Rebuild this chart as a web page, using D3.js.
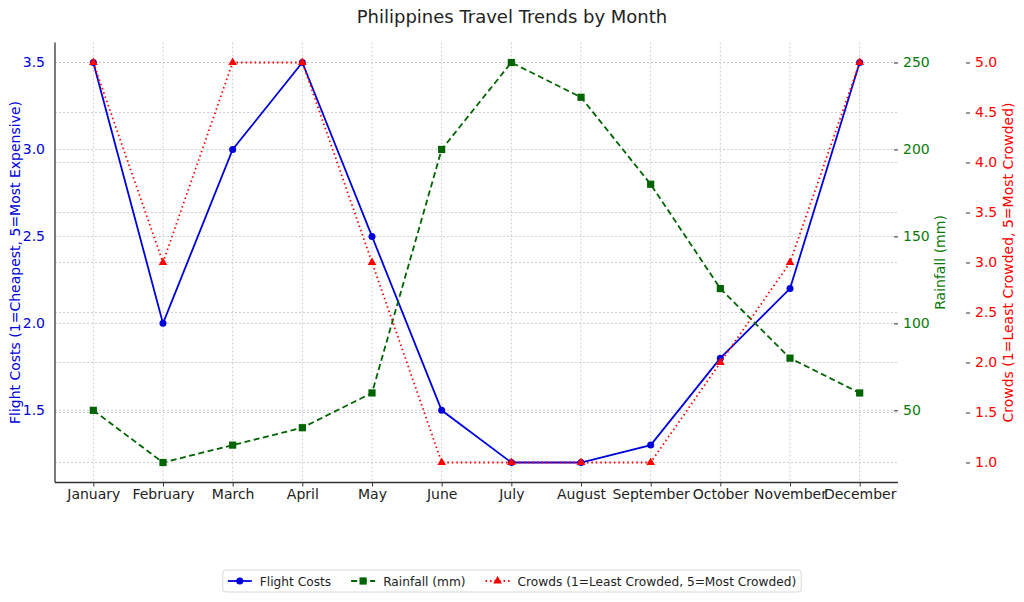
<!DOCTYPE html>
<html>
<head>
<meta charset="utf-8">
<script src="https://cdn.jsdelivr.net/npm/d3@7"></script>
<style>
  body { margin: 0; background: #fff; }
  text { font-family: "DejaVu Sans", sans-serif; }
</style>
</head>
<body>
<script>
// chart data
var months = ["January", "February", "March", "April", "May", "June",
              "July", "August", "September", "October", "November", "December"];
var flightCosts = [3.5, 2.0, 3.0, 3.5, 2.5, 1.5, 1.2, 1.2, 1.3, 1.8, 2.2, 3.5];
var rainfall = [50, 20, 30, 40, 60, 200, 250, 230, 180, 120, 80, 60];
var crowds = [5, 3, 5, 5, 3, 1, 1, 1, 1, 2, 3, 5];
var flightTicks = [1.5, 2.0, 2.5, 3.0, 3.5];
var rainTicks = [50, 100, 150, 200, 250];
var crowdTicks = [1.0, 1.5, 2.0, 2.5, 3.0, 3.5, 4.0, 4.5, 5.0];

var blue = "#0000dd", green = "#006400", greenText = "#0a7a0a", red = "#ff0000";

var W = 1024, H = 602;
var plotL = 55, plotR = 898, plotT = 42.5, plotB = 482.5;

var svg = d3.select("body").append("svg")
    .attr("width", W)
    .attr("height", H);

// matplotlib-like 5% margins
function padded(ext) {
  var m = (ext[1] - ext[0]) * 0.05;
  return [ext[0] - m, ext[1] + m];
}

var x = d3.scalePoint()
    .domain(months)
    .range([plotL, plotR])
    .padding(0.55);

var yFlight = d3.scaleLinear().domain(padded(d3.extent(flightCosts))).range([plotB, plotT]);
var yRain = d3.scaleLinear().domain(padded(d3.extent(rainfall))).range([plotB, plotT]);
var yCrowd = d3.scaleLinear().domain(padded(d3.extent(crowds))).range([plotB, plotT]);

// grid
var grid = svg.append("g").attr("class", "grid")
    .attr("stroke", "#c4c0cc")
    .attr("stroke-width", 0.8)
    .attr("stroke-dasharray", "2,2");

grid.selectAll("line.v").data(months).enter().append("line")
    .attr("x1", d => x(d)).attr("x2", d => x(d))
    .attr("y1", plotT).attr("y2", plotB);
grid.selectAll("line.hf").data(flightTicks).enter().append("line")
    .attr("x1", plotL).attr("x2", plotR)
    .attr("y1", d => yFlight(d)).attr("y2", d => yFlight(d));
grid.selectAll("line.hc").data(crowdTicks).enter().append("line")
    .attr("x1", plotL).attr("x2", plotR)
    .attr("y1", d => yCrowd(d)).attr("y2", d => yCrowd(d));

// axes
var xAxis = svg.append("g")
    .attr("transform", "translate(0," + plotB + ")")
    .call(d3.axisBottom(x).tickSize(4).tickPadding(3));
xAxis.select(".domain").attr("d", "M" + plotL + ",0H" + plotR).attr("stroke", "#333").attr("stroke-width", 1.3);
xAxis.selectAll(".tick line").attr("stroke", "#333");
xAxis.selectAll(".tick text").attr("fill", "#222").style("font-size", "14px");

var yAxisL = svg.append("g")
    .attr("transform", "translate(" + plotL + ",0)")
    .call(d3.axisLeft(yFlight).tickValues(flightTicks).tickFormat(d3.format(".1f")).tickSize(0).tickPadding(10));
yAxisL.select(".domain").attr("d", "M0," + plotT + "V" + plotB).attr("stroke", "#333").attr("stroke-width", 1.3);
yAxisL.selectAll(".tick text").attr("fill", blue).style("font-size", "14px");

var yAxisR = svg.append("g")
    .attr("transform", "translate(" + (plotR - 4) + ",0)")
    .call(d3.axisRight(yRain).tickValues(rainTicks).tickSize(4).tickPadding(5));
yAxisR.select(".domain").remove();
yAxisR.selectAll(".tick line").attr("stroke", "#333");
yAxisR.selectAll(".tick text").attr("fill", greenText).style("font-size", "14px");

var yAxisC = svg.append("g")
    .attr("transform", "translate(966,0)")
    .call(d3.axisRight(yCrowd).tickValues(crowdTicks).tickFormat(d3.format(".1f")).tickSize(4).tickPadding(5));
yAxisC.select(".domain").remove();
yAxisC.selectAll(".tick line").attr("stroke", "#333");
yAxisC.selectAll(".tick text").attr("fill", red).style("font-size", "14px");

svg.selectAll(".tick text").attr("font-family", "DejaVu Sans, sans-serif");

// axis titles
var midY = (plotT + plotB) / 2;
svg.append("text")
    .attr("transform", "translate(20," + midY + ") rotate(-90)")
    .attr("text-anchor", "middle")
    .attr("fill", blue)
    .style("font-size", "14px")
    .text("Flight Costs (1=Cheapest, 5=Most Expensive)");
svg.append("text")
    .attr("transform", "translate(945," + midY + ") rotate(-90)")
    .attr("text-anchor", "middle")
    .attr("fill", greenText)
    .style("font-size", "14px")
    .text("Rainfall (mm)");
svg.append("text")
    .attr("transform", "translate(1013," + midY + ") rotate(-90)")
    .attr("text-anchor", "middle")
    .attr("fill", red)
    .style("font-size", "14px")
    .text("Crowds (1=Least Crowded, 5=Most Crowded)");

// title
svg.append("text")
    .attr("x", 512).attr("y", 23)
    .attr("text-anchor", "middle")
    .attr("fill", "#222")
    .style("font-size", "18px")
    .text("Philippines Travel Trends by Month");

// series
function drawMarker(g, shape, color, cx, cy, s) {
  if (shape === "circle") {
    g.append("circle").attr("cx", cx).attr("cy", cy).attr("r", s).attr("fill", color);
  } else if (shape === "square") {
    g.append("rect").attr("x", cx - s).attr("y", cy - s).attr("width", 2 * s).attr("height", 2 * s).attr("fill", color);
  } else {
    g.append("path").attr("d", d3.symbol().type(d3.symbolTriangle).size(s * s * 3)())
      .attr("transform", "translate(" + cx + "," + cy + ")").attr("fill", color);
  }
}

var series = [
  {name: "Flight Costs", values: flightCosts, y: yFlight, color: blue, dash: null, shape: "circle", size: 3.5},
  {name: "Rainfall (mm)", values: rainfall, y: yRain, color: green, dash: "6,3.5", shape: "square", size: 3.6},
  {name: "Crowds (1=Least Crowded, 5=Most Crowded)", values: crowds, y: yCrowd, color: red, dash: "1.5,3", shape: "triangle", size: 3.3}
];

series.forEach(function(s) {
  var line = d3.line()
      .x((d, i) => x(months[i]))
      .y(d => s.y(d));
  var g = svg.append("g");
  g.append("path")
      .datum(s.values)
      .attr("d", line)
      .attr("fill", "none")
      .attr("stroke", s.color)
      .attr("stroke-width", 1.8)
      .attr("stroke-dasharray", s.dash);
  s.values.forEach(function(v, i) {
    drawMarker(g, s.shape, s.color, x(months[i]), s.y(v), s.size);
  });
});

// legend
var leg = svg.append("g");
var box = leg.append("rect")
    .attr("fill", "#fff")
    .attr("stroke", "#d8d8d8")
    .attr("rx", 3);
var cursor = 0;
series.forEach(function(s, i) {
  var item = leg.append("g").attr("transform", "translate(" + cursor + ",0)");
  item.append("line")
      .attr("x1", 0).attr("x2", 24).attr("y1", 0).attr("y2", 0)
      .attr("stroke", s.color).attr("stroke-width", 1.8)
      .attr("stroke-dasharray", s.dash);
  drawMarker(item, s.shape, s.color, 12, 0, s.size);
  var t = item.append("text")
      .attr("x", 32).attr("y", 4.5)
      .attr("fill", "#222")
      .style("font-size", "12.2px")
      .text(s.name);
  cursor += 32 + t.node().getComputedTextLength() + 20;
});
var legW = cursor - 20;
var legX = 512 - legW / 2;
leg.attr("transform", "translate(" + legX + ",581)");
box.attr("x", -5).attr("y", -11).attr("width", legW + 10).attr("height", 22);
</script>
</body>
</html>
